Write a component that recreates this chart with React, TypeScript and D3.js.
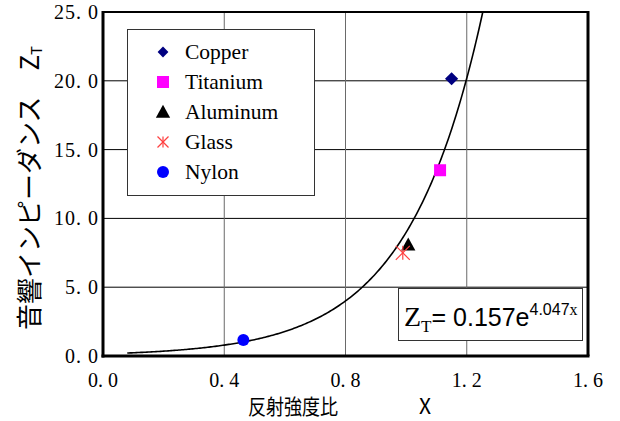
import React from 'react';
import * as d3 from 'd3';

const materials = ['Copper', 'Titanium', 'Aluminum', 'Glass', 'Nylon'];
const ratioX = [1.15, 1.112, 1.007, 0.989, 0.463];
const impedanceZ = [20.15, 13.5, 8.1, 7.5, 1.16];
const colors = ['#000080', '#ff00ff', '#000000', '#ff4040', '#0000ff'];
const xTicks = [0.0, 0.4, 0.8, 1.2, 1.6];
const yTicks = [0.0, 5.0, 10.0, 15.0, 20.0, 25.0];
const fitA = 0.157;
const fitB = 4.047;

const W = 620, H = 421;
const left = 103, right = 588, top = 12, bottom = 356;

const x = d3.scaleLinear().domain([0, 1.6]).range([left, right]);
const y = d3.scaleLinear().domain([0, 25]).range([bottom, top]);

const serif = '"Liberation Serif", "DejaVu Serif", serif';
const sans = '"Liberation Sans", Arial, sans-serif';
const jp = '"Noto Sans CJK JP", sans-serif';

function Marker({ kind, cx, cy, s }: { kind: number; cx: number; cy: number; s: number }) {
  const c = colors[kind];
  if (kind === 0) {
    return <path d={`M${cx},${cy - s * 0.6}L${cx + s * 0.6},${cy}L${cx},${cy + s * 0.6}L${cx - s * 0.6},${cy}Z`} fill={c} />;
  }
  if (kind === 1) return <rect x={cx - s / 2} y={cy - s / 2} width={s} height={s} fill={c} />;
  if (kind === 2) {
    return <path d={`M${cx},${cy - s * 0.55}L${cx + s * 0.55},${cy + s * 0.45}L${cx - s * 0.55},${cy + s * 0.45}Z`} fill={c} />;
  }
  if (kind === 3) {
    const r = s / 2;
    return (
      <g stroke={c} strokeWidth={1.2}>
        <line x1={cx - r} y1={cy - r} x2={cx + r} y2={cy + r} />
        <line x1={cx - r} y1={cy + r} x2={cx + r} y2={cy - r} />
        <line x1={cx} y1={cy - r} x2={cx} y2={cy + r} />
      </g>
    );
  }
  return <circle cx={cx} cy={cy} r={s / 2} fill={c} />;
}

export default function App() {
  const xEnd = Math.log(25 / fitA) / fitB;
  const curvePts = d3.range(0.08, xEnd, 0.005).concat([xEnd]).map(v => [v, fitA * Math.exp(fitB * v)] as [number, number]);
  const line = d3.line<[number, number]>().x(d => x(d[0])).y(d => y(d[1]));

  const legendSizes = [9, 12, 13, 11, 12];

  return (
    <svg width={W} height={H} style={{ position: 'absolute', left: 0, top: 0, background: '#fff' }}>
      {/* grid */}
      {yTicks.slice(1, -1).map(t => (
        <line key={'h' + t} x1={left} x2={right} y1={y(t)} y2={y(t)} stroke="#000" strokeWidth={1} />
      ))}
      {xTicks.slice(1, -1).map(t => (
        <line key={'v' + t} x1={x(t)} x2={x(t)} y1={top} y2={bottom} stroke="#6a6a6a" strokeWidth={1} />
      ))}

      {/* legend */}
      <rect x={127.5} y={29.5} width={187} height={166} fill="#fff" stroke="#333" strokeWidth={1} />
      {materials.map((m, i) => (
        <g key={m}>
          <Marker kind={i} cx={163} cy={52 + i * 30} s={legendSizes[i]} />
          <text x={185} y={59 + i * 30} fontFamily={serif} fontSize={21.5}>{m}</text>
        </g>
      ))}

      {/* fit curve */}
      <path d={line(curvePts) || ''} fill="none" stroke="#000" strokeWidth={1.6} />

      {/* data points */}
      {materials.map((m, i) => (
        <Marker key={m} kind={i} cx={x(ratioX[i])} cy={y(impedanceZ[i])} s={[11, 12, 13, 14, 12][i]} />
      ))}

      {/* equation box */}
      <rect x={398.5} y={288.5} width={184} height={52} fill="#fff" stroke="#333" strokeWidth={1} />
      <text x={404} y={326} fontSize={25}>
        <tspan fontFamily={serif} fontSize={28}>Z</tspan>
        <tspan fontFamily={serif} fontSize={17} dy={6}>T</tspan>
        <tspan fontFamily={sans} dx={0} dy={-6}>= 0.157e</tspan>
        <tspan fontFamily={sans} fontSize={16} dy={-11}>4.047</tspan>
        <tspan fontFamily={serif} fontSize={16}>x</tspan>
      </text>

      {/* frame */}
      <line x1={left} x2={right} y1={top} y2={top} stroke="#000" strokeWidth={2} />
      <line x1={right} x2={right} y1={top - 1} y2={bottom} stroke="#000" strokeWidth={3} />
      <line x1={left} x2={left} y1={top - 1} y2={bottom + 1.5} stroke="#000" strokeWidth={3} />
      <line x1={left - 1.5} x2={right + 1.5} y1={bottom} y2={bottom} stroke="#000" strokeWidth={3} />

      {/* y ticks */}
      {yTicks.map(t => (
        <text key={'yt' + t} x={99} y={y(t) + 7} textAnchor="end" fontFamily={serif} fontSize={20} letterSpacing={1}>
          {t.toFixed(1).replace('.', '. ')}
        </text>
      ))}
      {/* x ticks */}
      {xTicks.map(t => (
        <text key={'xt' + t} x={x(t)} y={387} textAnchor="middle" fontFamily={serif} fontSize={20}>
          {t.toFixed(1).replace('.', '. ')}
        </text>
      ))}

      {/* axis titles */}
      <text x={248} y={414} fontFamily={jp} fontSize={21} textLength={90} lengthAdjust="spacingAndGlyphs">反射強度比</text>
      <text x={425} y={414} textAnchor="middle" fontFamily={jp} fontSize={21}>X</text>
      <g transform="translate(39,188) rotate(-90)">
        <text x={0} y={0} textAnchor="middle" fontFamily={jp} fontSize={26}>
          音響インピーダンス　Z<tspan fontSize={15} dy={3}>T</tspan>
        </text>
      </g>
    </svg>
  );
}
